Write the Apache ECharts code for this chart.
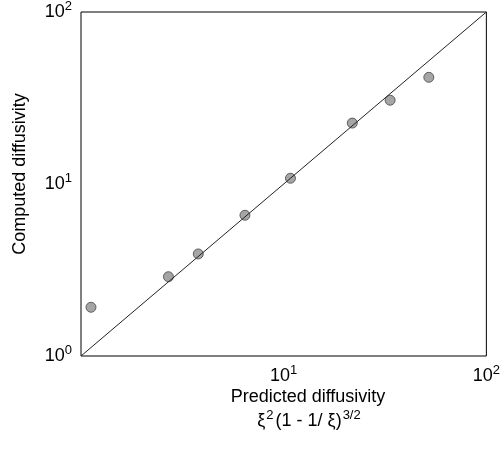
<!DOCTYPE html>
<html>
<head>
<meta charset="utf-8">
<script src="https://cdn.jsdelivr.net/npm/echarts@6/dist/echarts.min.js"></script>
<style>
html, body { margin: 0; padding: 0; background: #fff; }
#chart { width: 503px; height: 455px; }
</style>
</head>
<body>
<div id="chart"></div>
<script>
// values
var predicted = [1.12, 2.70, 3.79, 6.44, 10.8, 21.8, 33.5, 52.0];
var computed = [1.92, 2.89, 3.92, 6.58, 10.8, 22.6, 30.7, 41.7];
var diagonal = [1, 100];
// tick labels as base|exponent
var xTickLabels = ['', '10|1', '10|2'];
var yTickLabels = ['10|0', '10|1', '10|2'];

var font = '"Liberation Sans", Arial, sans-serif';

function powLabel(list) {
    return function (value, index) {
        var t = list[index];
        if (!t) return '';
        var p = t.split('|');
        return '{b|' + p[0] + '}{s|' + p[1] + '}';
    };
}

var labelRich = {
    b: { fontSize: 18, fontFamily: font, color: '#000' },
    s: { fontSize: 13, fontFamily: font, color: '#000', padding: [0, 0, 11, 0] }
};

var chartDom = document.getElementById('chart');
var myChart = echarts.init(chartDom);
var option;

var points = predicted.map(function (x, i) { return [x, computed[i]]; });

option = {
    animation: false,
    grid: {
        left: 81,
        right: 14,
        top: 9,
        bottom: 99,
        show: true,
        borderColor: '#000',
        borderWidth: 1
    },
    xAxis: {
        type: 'log',
        logBase: 10,
        min: 1,
        max: 100,
        axisLine: { show: false },
        axisTick: { show: false },
        splitLine: { show: false },
        axisLabel: {
            margin: 8,
            formatter: powLabel(xTickLabels),
            rich: labelRich
        }
    },
    yAxis: {
        type: 'log',
        logBase: 10,
        min: 1,
        max: 100,
        axisLine: { show: false },
        axisTick: { show: false },
        splitLine: { show: false },
        axisLabel: {
            margin: 9,
            formatter: powLabel(yTickLabels),
            rich: labelRich
        }
    },
    graphic: [{
        type: 'text',
        x: 20,
        y: 174,
        rotation: Math.PI / 2,
        style: {
            text: 'Computed diffusivity',
            font: '18px ' + font,
            fill: '#000',
            align: 'center',
            verticalAlign: 'middle'
        }
    }, {
        type: 'text',
        x: 308,
        y: 397,
        style: {
            text: 'Predicted diffusivity',
            font: '18px ' + font,
            fill: '#000',
            align: 'center',
            verticalAlign: 'middle'
        }
    }, {
        type: 'text',
        x: 310,
        y: 421,
        style: {
            text: '{m|ξ}{s|2}{m|(1 - 1/ ξ)}{s|3/2}',
            align: 'center',
            verticalAlign: 'middle',
            rich: {
                m: { fontSize: 18, fontFamily: font, fill: '#000' },
                s: { fontSize: 13, fontFamily: font, fill: '#000', padding: [0, 2, 11, 1] }
            }
        }
    }],
    series: [{
        type: 'line',
        data: diagonal.map(function (v) { return [v, v]; }),
        symbol: 'none',
        silent: true,
        lineStyle: { color: '#222', width: 1 }
    }, {
        type: 'scatter',
        data: points,
        symbol: 'circle',
        symbolSize: 10,
        itemStyle: {
            color: '#8e8e8e',
            borderColor: '#444',
            borderWidth: 1
        }
    }]
};

option && myChart.setOption(option);
</script>
</body>
</html>
